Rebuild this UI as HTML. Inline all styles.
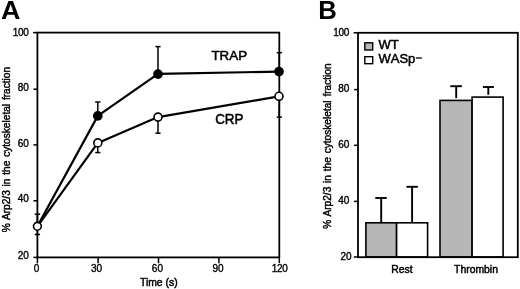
<!DOCTYPE html>
<html>
<head>
<meta charset="utf-8">
<title>Arp2/3 in the cytoskeletal fraction</title>
<style>
html,body{margin:0;padding:0;background:#fff;}
body{width:520px;height:289px;overflow:hidden;}
svg{display:block;filter:blur(0.25px);}
text{font-family:"Liberation Sans",sans-serif;fill:#000;}
.ax{stroke:#000;stroke-width:1.8;fill:none;stroke-linecap:butt;}
.tk{stroke:#000;stroke-width:1.5;fill:none;}
.ln{stroke:#000;stroke-width:2.2;fill:none;stroke-linejoin:round;}
.eb{stroke:#000;stroke-width:1.5;fill:none;}
.ebb{stroke:#000;stroke-width:1.9;fill:none;}
.num{font-size:10px;stroke:#000;stroke-width:0.35;}
.lab{font-size:10.4px;stroke:#000;stroke-width:0.45;}
.ylab{font-size:10.15px;word-spacing:1px;stroke:#000;stroke-width:0.42;}
</style>
</head>
<body>
<svg width="520" height="289" viewBox="0 0 520 289">
<rect x="0" y="0" width="520" height="289" fill="#fff"/>

<!-- ================= Panel A ================= -->
<text transform="translate(1.0,19.1) scale(1.045,1)" font-size="25.7" font-weight="bold">A</text>

<!-- axes box -->
<rect class="ax" x="37.4" y="32.6" width="241.9" height="224.8"/>
<!-- y ticks -->
<g class="tk">
<line x1="33.0" y1="32.6" x2="37.4" y2="32.6"/>
<line x1="33.4" y1="89.2" x2="37.4" y2="89.2"/>
<line x1="33.4" y1="144.9" x2="37.4" y2="144.9"/>
<line x1="33.4" y1="200.8" x2="37.4" y2="200.8"/>
<line x1="33.4" y1="257.4" x2="37.4" y2="257.4"/>
<!-- x ticks -->
<line x1="37.4" y1="257.5" x2="37.4" y2="263.2"/>
<line x1="98.1" y1="257.5" x2="98.1" y2="263.2"/>
<line x1="158.5" y1="257.5" x2="158.5" y2="263.2"/>
<line x1="218.9" y1="257.5" x2="218.9" y2="263.2"/>
<line x1="279.3" y1="257.5" x2="279.3" y2="263"/>
</g>
<!-- y labels -->
<g class="num" text-anchor="end">
<text x="28.5" y="36.2" letter-spacing="-0.3">100</text>
<text x="28.8" y="90.7">80</text>
<text x="28.8" y="147.2">60</text>
<text x="28.8" y="202.1">40</text>
<text x="28.8" y="259.2">20</text>
</g>
<!-- x labels -->
<g class="num" text-anchor="middle">
<text x="36.6" y="271.7">0</text>
<text x="96.5" y="271.7">30</text>
<text x="157.4" y="271.7">60</text>
<text x="218" y="271.7">90</text>
<text x="279.6" y="271.7" letter-spacing="-0.35">120</text>
</g>
<text class="lab" x="158.8" y="286.4" text-anchor="middle">Time (s)</text>
<text class="ylab" transform="translate(9.5,149.6) rotate(-90)" text-anchor="middle">% Arp2/3 in the cytoskeletal fraction</text>

<!-- error bars A -->
<g class="eb">
<!-- t=0 -->
<line x1="37.4" y1="214.2" x2="37.4" y2="234.6"/>
<line x1="34.7" y1="214.2" x2="40.1" y2="214.2"/>
<line x1="34.7" y1="234.5" x2="40.1" y2="234.5"/>
<!-- TRAP -->
<line x1="97.8" y1="102" x2="97.8" y2="115.9"/>
<line x1="95.2" y1="102" x2="100.4" y2="102"/>
<line x1="158" y1="46.6" x2="158" y2="73.8"/>
<line x1="155.4" y1="46.6" x2="160.6" y2="46.6"/>
<line x1="279.3" y1="52.7" x2="279.3" y2="71.6"/>
<line x1="276.7" y1="52.7" x2="281.9" y2="52.7"/>
<!-- CRP -->
<line x1="97.8" y1="142.9" x2="97.8" y2="152.6"/>
<line x1="95.2" y1="152.6" x2="100.4" y2="152.6"/>
<line x1="158" y1="117.1" x2="158" y2="133.2"/>
<line x1="155.4" y1="133.2" x2="160.6" y2="133.2"/>
<line x1="279.3" y1="96.3" x2="279.3" y2="117.1"/>
<line x1="276.7" y1="117.1" x2="281.9" y2="117.1"/>
</g>

<!-- lines A -->
<polyline class="ln" points="37.4,226.3 97.8,115.9 158,73.8 279,71.6"/>
<polyline class="ln" points="37.4,226.3 97.8,142.9 158,117.1 279,96.3"/>

<!-- markers A -->
<g fill="#000" stroke="none">
<circle cx="97.8" cy="115.9" r="4.85"/>
<circle cx="158" cy="74.1" r="4.85"/>
<circle cx="279" cy="71.6" r="4.85"/>
</g>
<g fill="#fff" stroke="#000" stroke-width="1.6">
<circle cx="37.4" cy="226.3" r="3.9"/>
<circle cx="97.8" cy="142.9" r="4"/>
<circle cx="158" cy="117.1" r="4"/>
<circle cx="279" cy="96.3" r="4"/>
</g>

<text x="211.4" y="60.3" font-size="13.4" stroke="#000" stroke-width="0.5">TRAP</text>
<text transform="translate(215.2,123.8) scale(1,1.07)" font-size="13.4" stroke="#000" stroke-width="0.5">CRP</text>

<!-- ================= Panel B ================= -->
<text x="318.3" y="19.1" font-size="25.7" font-weight="bold">B</text>

<!-- bars -->
<g stroke="#000" stroke-width="1.6">
<rect x="365.9" y="222.8" width="30.7" height="34.2" fill="#b7b7b7"/>
<rect x="396.6" y="222.8" width="31" height="34.2" fill="#fff"/>
<rect x="440" y="100.4" width="32.1" height="156.6" fill="#b7b7b7"/>
<rect x="472.1" y="97.1" width="31" height="159.9" fill="#fff"/>
</g>
<!-- error bars B -->
<g class="ebb">
<line x1="381.2" y1="198" x2="381.2" y2="222.8"/>
<line x1="375.3" y1="198" x2="386.8" y2="198"/>
<line x1="412.1" y1="186.8" x2="412.1" y2="222.8"/>
<line x1="406.4" y1="186.8" x2="417.9" y2="186.8"/>
<line x1="456.2" y1="86.2" x2="456.2" y2="98.1"/>
<line x1="450.3" y1="86.2" x2="461.9" y2="86.2"/>
<line x1="488.3" y1="87" x2="488.3" y2="94.8"/>
<line x1="482.9" y1="87" x2="493.9" y2="87"/>
</g>

<!-- axes box B -->
<rect class="ax" x="358.0" y="32.8" width="159.8" height="224.4"/>
<g class="tk">
<line x1="353.6" y1="32.8" x2="358.2" y2="32.8"/>
<line x1="354.1" y1="89.6" x2="358.2" y2="89.6"/>
<line x1="354.1" y1="145.3" x2="358.2" y2="145.3"/>
<line x1="354.1" y1="201.4" x2="358.2" y2="201.4"/>
<line x1="353.8" y1="257" x2="358.2" y2="257"/>
</g>
<g class="num" text-anchor="end">
<text x="349.1" y="35.6" letter-spacing="-0.3">100</text>
<text x="349.4" y="92.1">80</text>
<text x="349.4" y="147.9">60</text>
<text x="349.4" y="203.9">40</text>
<text x="351.6" y="259.9">20</text>
</g>
<text class="ylab" transform="translate(330.7,146.1) rotate(-90)" text-anchor="middle">% Arp2/3 in the cytoskeletal fraction</text>
<text class="lab" x="402" y="273.4" text-anchor="middle">Rest</text>
<text class="lab" x="476" y="273.2" text-anchor="middle">Thrombin</text>

<!-- legend -->
<rect x="364.8" y="42.8" width="7.9" height="7.2" fill="#b7b7b7" stroke="#000" stroke-width="1.4"/>
<rect x="364.8" y="56.7" width="7.9" height="7.0" fill="#fff" stroke="#000" stroke-width="1.4"/>
<g font-size="13" style="font-kerning:none" stroke="#000" stroke-width="0.5">
<text x="378.5" y="48.8">WT</text>
<text x="378.5" y="62.7">WASp</text>
</g>
<line x1="415.9" y1="58" x2="421.9" y2="58" stroke="#000" stroke-width="1.3"/>
</svg>
</body>
</html>
